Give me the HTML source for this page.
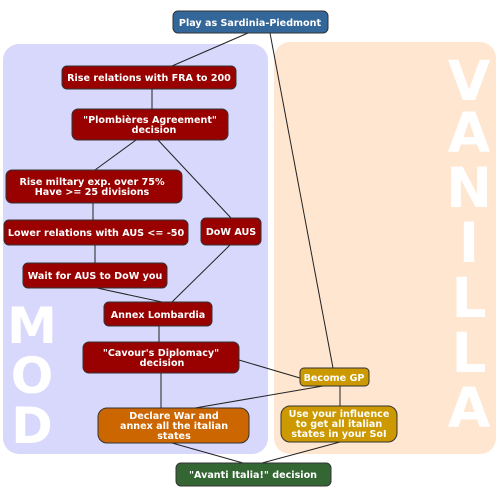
<!DOCTYPE html>
<html><head><meta charset="utf-8"><style>
html,body{margin:0;padding:0;background:#fff;width:500px;height:500px;overflow:hidden}
svg text{font-family:"DejaVu Sans",sans-serif;font-weight:bold}
</style></head><body>
<svg width="500" height="500" viewBox="0 0 500 500" xmlns="http://www.w3.org/2000/svg">
<rect x="3" y="44" width="265" height="410" rx="16" fill="#d8d8fd"/>
<rect x="274" y="42" width="222" height="412" rx="16" fill="#fee6d0"/>
<g fill="#fff" font-size="50" text-anchor="middle">
<text x="32" y="343">M</text><text x="32" y="393">O</text><text x="32" y="443">D</text>
</g>
<g fill="#fff" font-size="55" text-anchor="middle">
<text x="469" y="100">V</text><text x="469" y="152">A</text><text x="469" y="207">N</text>
<text x="469" y="262">I</text><text x="469" y="317">L</text><text x="469" y="372">L</text><text x="469" y="427">A</text>
</g>
<g stroke="#222" stroke-width="1" fill="none">
<line x1="248" y1="33" x2="172" y2="66"/>
<line x1="270" y1="33" x2="333" y2="368"/>
<line x1="152" y1="89" x2="152" y2="109"/>
<line x1="136" y1="140" x2="95" y2="170"/>
<line x1="158" y1="140" x2="231" y2="218"/>
<line x1="93" y1="203" x2="93" y2="220"/>
<line x1="95" y1="245" x2="95" y2="263"/>
<line x1="97" y1="288" x2="162" y2="302"/>
<line x1="230" y1="245" x2="172" y2="302"/>
<line x1="159" y1="326" x2="159" y2="342"/>
<line x1="239" y1="360" x2="300" y2="378"/>
<line x1="161" y1="373" x2="161" y2="408"/>
<line x1="323" y1="386" x2="195" y2="408"/>
<line x1="340" y1="386" x2="340" y2="406"/>
<line x1="172" y1="443" x2="243" y2="463"/>
<line x1="340" y1="442" x2="262" y2="463"/>
</g>
<g stroke="#333" stroke-width="1">
<rect x="173" y="11" width="155" height="22" rx="5" fill="#336699"/>
<rect x="62" y="66" width="174" height="23" rx="5" fill="#990000"/>
<rect x="72" y="109" width="156" height="31" rx="6" fill="#990000"/>
<rect x="6" y="170" width="176" height="33" rx="6" fill="#990000"/>
<rect x="4" y="220" width="184" height="25" rx="5" fill="#990000"/>
<rect x="201" y="218" width="60" height="27" rx="5" fill="#990000"/>
<rect x="23" y="263" width="144" height="25" rx="5" fill="#990000"/>
<rect x="104" y="302" width="108" height="24" rx="5" fill="#990000"/>
<rect x="83" y="342" width="156" height="31" rx="6" fill="#990000"/>
<rect x="300" y="368" width="69" height="18" rx="4" fill="#cc9900"/>
<rect x="98" y="408" width="151" height="35" rx="9" fill="#cc6600"/>
<rect x="281" y="406" width="116" height="36" rx="9" fill="#cc9900"/>
<rect x="176" y="463" width="155" height="23" rx="5" fill="#336633"/>
</g>
<g fill="#fff" font-size="9.6" text-anchor="middle">
<text x="250" y="26">Play as Sardinia-Piedmont</text>
<text x="149" y="81">Rise relations with FRA to 200</text>
<text x="150" y="123">"Plombières Agreement"</text>
<text x="154" y="133">decision</text>
<text x="92" y="185">Rise miltary exp. over 75%</text>
<text x="92" y="195">Have &gt;= 25 divisions</text>
<text x="96" y="236">Lower relations with AUS &lt;= -50</text>
<text x="231" y="235">DoW AUS</text>
<text x="95" y="279">Wait for AUS to DoW you</text>
<text x="158" y="318">Annex Lombardia</text>
<text x="161" y="356">"Cavour's Diplomacy"</text>
<text x="162" y="366">decision</text>
<text x="334" y="381">Become GP</text>
<text x="174" y="419">Declare War and</text>
<text x="174" y="429">annex all the italian</text>
<text x="174" y="439">states</text>
<text x="339" y="417">Use your influence</text>
<text x="339" y="427">to get all italian</text>
<text x="339" y="437">states in your SoI</text>
<text x="253" y="478">"Avanti Italia!" decision</text>
</g>
</svg>
</body></html>
